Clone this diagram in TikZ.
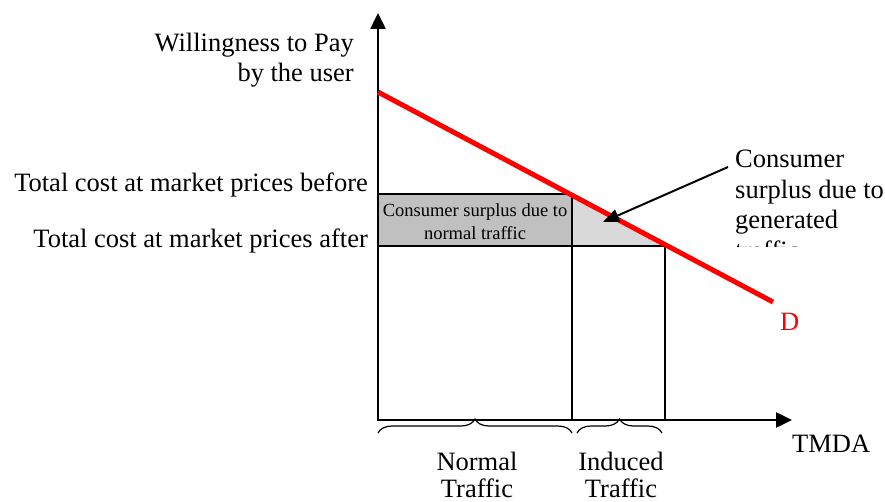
\documentclass[tikz,border=0pt]{standalone}
\usepackage{fontspec}
\setmainfont{Liberation Serif}
\usetikzlibrary{arrows.meta,decorations.pathreplacing}
\definecolor{dk}{RGB}{192,192,192}
\definecolor{lt}{RGB}{217,217,217}
\begin{document}
\begin{tikzpicture}[x=1pt,y=-1pt,
 lab/.style={font=\fontsize{26.5}{30.5}\selectfont, inner sep=0pt},
 botlab/.style={font=\fontsize{26.5}{27}\selectfont, inner sep=0pt, align=center, anchor=base},
 smalltxt/.style={font=\fontsize{18.5}{23}\selectfont, inner sep=0pt, align=center},
 axistip/.style={line width=2.5pt, {Triangle[length=16pt,width=15pt]}-{Triangle[length=16pt,width=15pt]}},
 brc/.style={decorate, decoration={brace,amplitude=14pt}, line width=1.2pt}]
\useasboundingbox (0,0) rectangle (885,502);
\coordinate (O) at (378,420);
\coordinate (Ytop) at (378,13);
\coordinate (Xend) at (792,420);
\coordinate (Dstart) at (378,92);
\coordinate (Dend) at (773,302);
\coordinate (B0) at (378,194);
\coordinate (B1) at (572,194);
\coordinate (A0) at (378,246);
\coordinate (A1) at (572,246);
\coordinate (A2) at (665,246);
\coordinate (N0) at (572,420);
\coordinate (N1) at (665,420);
\coordinate (arrS) at (728,167);
\coordinate (arrE) at (603,222);
% fills
\fill[dk] (B0) rectangle (A1);
\fill[lt] (B1) -- (A2) -- (A1) -- cycle;
% lines
\draw[line width=1.5pt] (B0) -- (B1);
\draw[line width=1.5pt] (A0) -- (A2);
\draw[line width=1.8pt] (B1) -- (N0);
\draw[line width=1.2pt] (A2) -- (N1);
% axes
\draw[axistip] (Ytop) -- (O) -- (Xend);
% demand line
\draw[red, line width=5pt] (Dstart) -- (Dend);
% labels
\node[lab, anchor=base east, align=right] (wtp) at (354,82) {Willingness to Pay\\by the user};
\node[lab, anchor=base east] (before) at (368,192) {Total cost at market prices before};
\node[lab, anchor=base east] (after) at (368,248) {Total cost at market prices after};
\node[smalltxt, anchor=base] (ns) at (475,240) {Consumer surplus due to\\normal traffic};
\begin{scope}
\clip (690,120) rectangle (885,247);
\node[lab, anchor=base west, align=left] (gen) at (735,259.5) {Consumer\\surplus due to\\generated\\traffic};
\end{scope}
\draw[line width=2pt, -{Triangle[length=16pt,width=13pt]}] (arrS) -- (arrE);
\node[lab, red, anchor=base west] (D) at (780,330) {D};
\node[lab, anchor=base west] (tmda) at (792,452) {TMDA};
% braces
\draw[brc] (378,433) -- (572,433);
\draw[brc] (577,433) -- (662,433);
\node[botlab] (normal) at (477,497) {Normal\\Traffic};
\node[botlab] (induced) at (621,497) {Induced\\Traffic};
\end{tikzpicture}
\end{document}
